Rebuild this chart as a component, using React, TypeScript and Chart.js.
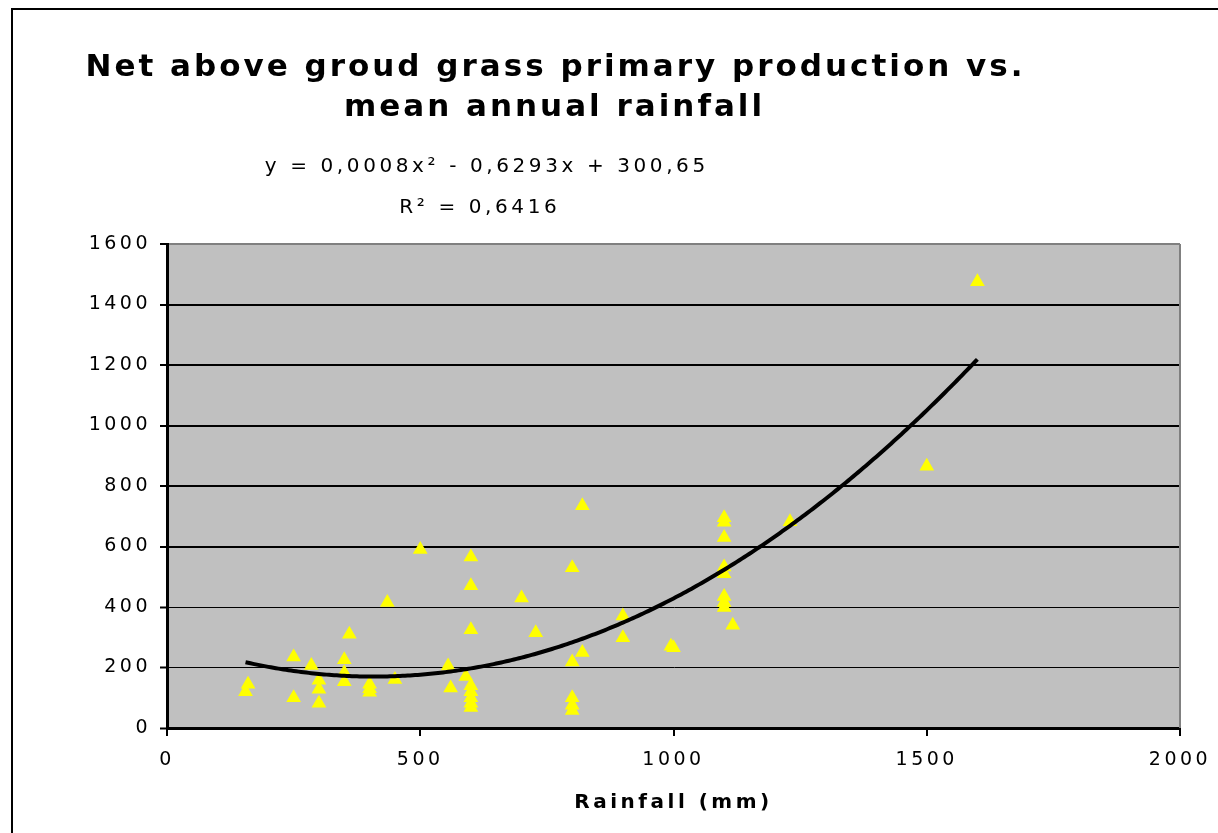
import React, { useEffect, useRef } from "react";
import { Chart, registerables } from "chart.js";

Chart.register(...registerables);

const TITLE_LINES = ["Net above groud grass primary production vs.", "mean annual rainfall"];
const EQUATION_LINES = ["y = 0,0008x\u00b2 - 0,6293x + 300,65", "R\u00b2 = 0,6416"];
const X_AXIS_TITLE = "Rainfall (mm)";

// Observations: rainfall (mm) and net above-ground production
const RAINFALL = [
  155, 160, 250, 250, 285, 300, 300, 300, 350, 350, 350, 360, 400, 400, 400, 435, 450, 500,
  555, 560, 590, 600, 600, 600, 600, 600, 600, 600, 600, 700, 728, 800, 800, 800, 800, 800,
  820, 820, 900, 900, 995, 1000, 1100, 1100, 1100, 1100, 1100, 1100, 1100, 1100, 1117, 1230,
  1500, 1600,
];
const PRODUCTION = [
  120, 145, 235, 100, 207, 158, 128, 82, 226, 183, 153, 310, 145, 130, 118, 415, 160, 590,
  205, 132, 170, 565, 470, 325, 140, 120, 100, 82, 68, 430, 315, 530, 218, 100, 75, 58,
  735, 250, 370, 298, 270, 265, 695, 680, 630, 532, 510, 435, 415, 398, 340, 682,
  865, 1475,
];

// Polynomial trend line (order 2) coefficients as rendered: a*x^2 + b*x + c
const TREND_COEFFS = [0.000739, -0.604, 293.4];
const TREND_START = 155;
const TREND_END = 1600;

const X_MIN = 0;
const X_MAX = 2000;
const X_STEP = 500;
const Y_MIN = 0;
const Y_MAX = 1600;
const Y_STEP = 200;

const FONT = "'DejaVu Sans', Verdana, sans-serif";

function trendPoints() {
  const pts: { x: number; y: number }[] = [];
  for (let x = TREND_START; x <= TREND_END; x += 5) {
    const [a, b, c] = TREND_COEFFS;
    pts.push({ x, y: a * x * x + b * x + c });
  }
  return pts;
}

function drawSpaced(ctx: CanvasRenderingContext2D, text: string, cx: number, cy: number, font: string, spacing: number) {
  ctx.save();
  ctx.font = font;
  (ctx as any).letterSpacing = spacing + "px";
  ctx.textAlign = "left";
  ctx.textBaseline = "middle";
  ctx.fillStyle = "#000";
  const w = ctx.measureText(text).width - spacing;
  ctx.fillText(text, cx - w / 2, cy);
  ctx.restore();
}

const decorPlugin = {
  id: "decor",
  beforeDraw(chart: any) {
    const { ctx, chartArea } = chart;
    ctx.save();
    ctx.fillStyle = "#ffffff";
    ctx.fillRect(0, 0, chart.width, chart.height);
    ctx.strokeStyle = "#000";
    ctx.lineWidth = 2;
    ctx.beginPath();
    ctx.moveTo(12, chart.height + 5);
    ctx.lineTo(12, 9);
    ctx.lineTo(chart.width + 5, 9);
    ctx.stroke();
    ctx.fillStyle = "#c0c0c0";
    ctx.fillRect(chartArea.left, chartArea.top, chartArea.right - chartArea.left, chartArea.bottom - chartArea.top);
    ctx.restore();
    (ctx as any).letterSpacing = "3.5px";
  },
  beforeDatasetsDraw(chart: any) {
    const { ctx, chartArea } = chart;
    (ctx as any).letterSpacing = "0px";
    ctx.save();
    ctx.strokeStyle = "#808080";
    ctx.lineWidth = 2;
    ctx.beginPath();
    ctx.moveTo(chartArea.right, chartArea.top);
    ctx.lineTo(chartArea.right, chartArea.bottom);
    ctx.stroke();
    ctx.restore();
  },
  afterDraw(chart: any) {
    const { ctx } = chart;
    (ctx as any).letterSpacing = "0px";
    drawSpaced(ctx, TITLE_LINES[0], 554, 68, `bold 31px ${FONT}`, 3);
    drawSpaced(ctx, TITLE_LINES[1], 553, 108, `bold 31px ${FONT}`, 3);
    drawSpaced(ctx, EQUATION_LINES[0], 485, 167, `20px ${FONT}`, 3.6);
    drawSpaced(ctx, EQUATION_LINES[1], 478, 208, `20px ${FONT}`, 3.6);
  },
};

export default function App() {
  const canvasRef = useRef<HTMLCanvasElement | null>(null);

  useEffect(() => {
    if (!canvasRef.current) return;
    const points = RAINFALL.map((x, i) => ({ x, y: PRODUCTION[i] }));
    const chart = new Chart(canvasRef.current, {
      type: "scatter",
      data: {
        datasets: [
          {
            label: "Trend",
            data: trendPoints(),
            showLine: true,
            borderColor: "#000000",
            borderWidth: 4,
            pointRadius: 0,
            tension: 0,
          },
          {
            label: "NAGPP",
            data: points,
            pointStyle: "triangle",
            pointRadius: 8.5,
            pointBackgroundColor: "#ffff00",
            pointBorderWidth: 0,
            borderColor: "#ffff00",
          },
        ],
      },
      options: {
        animation: false,
        responsive: true,
        maintainAspectRatio: false,
        layout: { padding: { left: 0, top: 244, right: 38, bottom: 0 } },
        plugins: {
          legend: { display: false },
          tooltip: { enabled: false },
          title: { display: false },
        },
        scales: {
          x: {
            type: "linear",
            min: X_MIN,
            max: X_MAX,
            afterFit: (s: any) => {
              s.height = 105;
            },
            ticks: {
              stepSize: X_STEP,
              color: "#000",
              font: { family: FONT, size: 19 },
              padding: 13,
              maxRotation: 0,
              callback: (v: any) => String(v),
            },
            grid: {
              drawOnChartArea: false,
              drawTicks: true,
              tickLength: 8,
              color: "#000",
              lineWidth: 2,
            },
            border: { display: true, color: "#000", width: 3 },
            title: {
              display: true,
              text: X_AXIS_TITLE,
              color: "#000",
              font: { family: FONT, size: 20, weight: "bold" },
              padding: { top: 0, bottom: 18 },
            },
          },
          y: {
            type: "linear",
            min: Y_MIN,
            max: Y_MAX,
            afterFit: (s: any) => {
              s.width = 167;
            },
            ticks: {
              stepSize: Y_STEP,
              color: "#000",
              font: { family: FONT, size: 19 },
              padding: 9,
              callback: (v: any) => String(v),
            },
            grid: {
              drawOnChartArea: true,
              drawTicks: true,
              tickLength: 7,
              tickColor: "#000",
              tickWidth: 2,
              color: (c: any) => (c.tick && c.tick.value === Y_MAX ? "#808080" : "#000"),
              lineWidth: (c: any) => {
                const v = c.tick ? c.tick.value : 0;
                if (v === Y_MAX) return 2;
                return v >= 600 ? 2 : 1;
              },
            },
            border: { display: true, color: "#000", width: 3 },
          },
        },
      },
      plugins: [decorPlugin],
    });
    return () => chart.destroy();
  }, []);

  return (
    <div style={{ position: "absolute", left: 0, top: 0, width: 1218, height: 833 }}>
      <canvas ref={canvasRef} />
    </div>
  );
}
